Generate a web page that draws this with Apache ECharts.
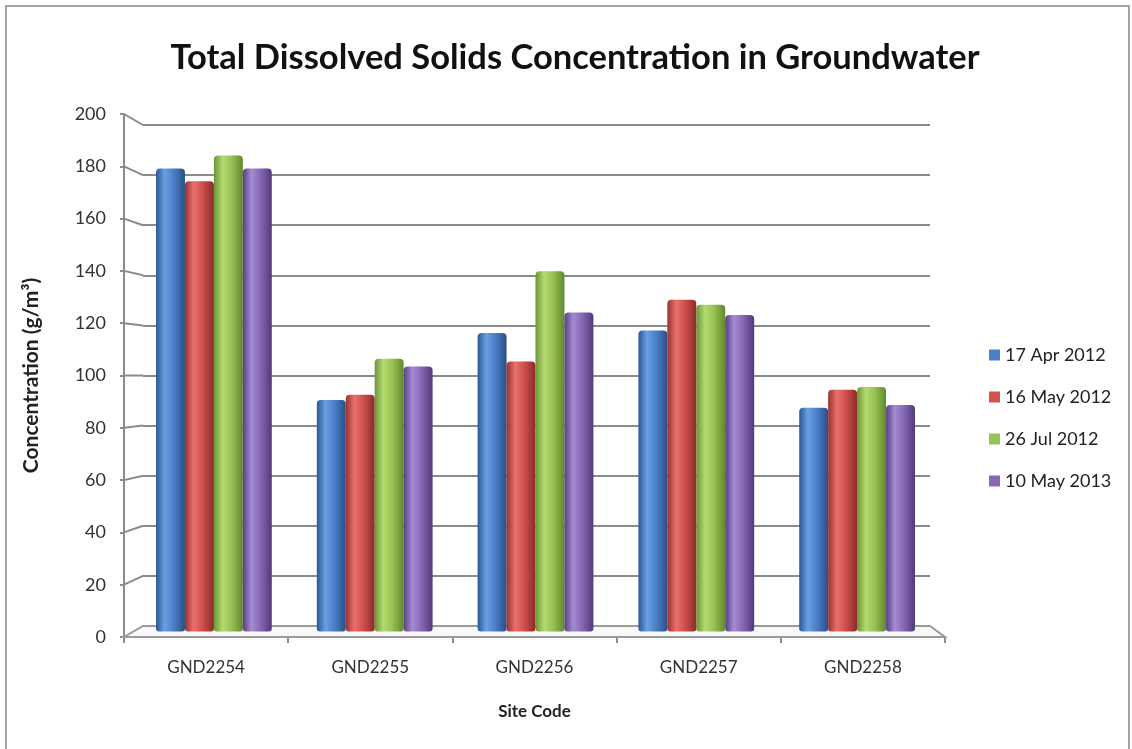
<!DOCTYPE html>
<html>
<head>
<meta charset="utf-8">
<title>Total Dissolved Solids Concentration in Groundwater</title>
<script src="https://cdn.jsdelivr.net/npm/echarts@6/dist/echarts.min.js"></script>
<style>
  html, body { margin: 0; padding: 0; background: #ffffff; }
  #chart { width: 1132px; height: 749px; }
</style>
</head>
<body>
<div id="chart"></div>
<script>
// Site codes along the horizontal axis
const sites = ['GND2254', 'GND2255', 'GND2256', 'GND2257', 'GND2258'];
// Sampling dates (one series each)
const dates = ['17 Apr 2012', '16 May 2012', '26 Jul 2012', '10 May 2013'];
// TDS concentration (g/m³) per site, one array per sampling date
const apr2012 = [180, 90, 116, 117, 87];
const may2012 = [175, 92, 105, 129, 94];
const jul2012 = [185, 106, 140, 127, 95];
const may2013 = [180, 103, 124, 123, 88];
// Value axis ticks
const yTicks = [0, 20, 40, 60, 80, 100, 120, 140, 160, 180, 200];

const values = [apr2012, may2012, jul2012, may2013];
const baseColors = ['#4a7fc9', '#d4514d', '#98c455', '#8668b6'];
const shades = [
  ['#2c5793', '#6a9fe3', '#4b80c9', '#2a4f86'],
  ['#953230', '#e8716c', '#d0504c', '#8a2c2a'],
  ['#6a9535', '#b4da70', '#97c354', '#62872f'],
  ['#573f80', '#a68bd3', '#8768b6', '#513a77']
];

const FONT = 'Lato, "Open Sans", sans-serif';
const chart = echarts.init(document.getElementById('chart'), null, { renderer: 'canvas' });

function barGradient(s) {
  return new echarts.graphic.LinearGradient(0, 0, 1, 0, [
    { offset: 0, color: s[0] },
    { offset: 0.3, color: s[1] },
    { offset: 0.6, color: s[2] },
    { offset: 1, color: s[3] }
  ]);
}

const yMin = yTicks[0], yMax = yTicks[yTicks.length - 1], yStep = yTicks[1] - yTicks[0];

chart.setOption({
  animation: false,
  backgroundColor: '#ffffff',
  title: {
    text: 'Total Dissolved Solids Concentration in Groundwater',
    left: 570, top: 35, textAlign: 'center',
    textStyle: { fontFamily: FONT, fontSize: 34.5, fontWeight: 'bold', color: '#111' }
  },
  legend: {
    orient: 'vertical',
    left: 989, top: 346, padding: 0,
    itemWidth: 11, itemHeight: 11, itemGap: 24,
    icon: 'rect',
    textStyle: { fontFamily: FONT, fontSize: 18, color: '#222', lineHeight: 18 },
    data: dates.map((d, i) => ({ name: d, itemStyle: { color: baseColors[i] } }))
  },
  grid: [
    // back wall (gridlines)
    { left: 143, right: 202, top: 125, bottom: 123 },
    // front axis
    { left: 124, width: 821, top: 114, bottom: 112 },
    // bars at mid depth
    { left: 133.5, right: 194.5, top: 117, bottom: 117.5 }
  ],
  xAxis: [
    { gridIndex: 0, type: 'category', data: sites, show: false },
    {
      gridIndex: 1, type: 'category', data: sites,
      axisLine: { lineStyle: { color: '#8c8c8c', width: 2 } },
      axisTick: { show: true, length: 6, lineStyle: { color: '#8c8c8c', width: 2 } },
      axisLabel: { fontFamily: FONT, fontSize: 17, color: '#333', margin: 22 },
      name: 'Site Code', nameLocation: 'middle', nameGap: 66,
      nameTextStyle: { fontFamily: FONT, fontSize: 17, fontWeight: 'bold', color: '#222' }
    },
    { gridIndex: 2, type: 'category', data: sites, show: false }
  ],
  yAxis: [
    {
      gridIndex: 0, type: 'value', min: yMin, max: yMax, interval: yStep,
      axisLine: { show: false }, axisTick: { show: false }, axisLabel: { show: false },
      splitLine: { lineStyle: { color: '#8a8a8a', width: 2 } }
    },
    {
      gridIndex: 1, type: 'value', min: yMin, max: yMax, interval: yStep,
      axisLine: { show: true, lineStyle: { color: '#8c8c8c', width: 2 } },
      axisTick: { show: true, length: 4, lineStyle: { color: '#8c8c8c', width: 2 } },
      axisLabel: { fontFamily: FONT, fontSize: 18, color: '#333', margin: 18 },
      splitLine: { show: false },
      name: 'Concentration (g/m³)', nameLocation: 'middle', nameGap: 82, nameRotate: 90,
      nameTextStyle: { fontFamily: FONT, fontSize: 21, fontWeight: 'bold', color: '#222' }
    },
    { gridIndex: 2, type: 'value', min: yMin, max: yMax, show: false, splitLine: { show: false } }
  ],
  series: dates.map((d, i) => ({
    name: d,
    type: 'bar',
    xAxisIndex: 2, yAxisIndex: 2,
    barGap: '0%', barCategoryGap: '28%',
    z: 5,
    itemStyle: { color: barGradient(shades[i]), borderRadius: [4, 4, 3, 3] },
    data: values[i]
  }))
});

// Perspective pieces: floor outline and the slanted links between the front axis ticks and the back wall gridlines
function drawDepth() {
  const graphics = [];
  const rf = chart.getModel().getComponent('grid', 1).coordinateSystem.getRect();
  const rb = chart.getModel().getComponent('grid', 0).coordinateSystem.getRect();
  yTicks.forEach(v => {
    if (v === yMin) return;
    const yf = chart.convertToPixel({ yAxisIndex: 1 }, v);
    const yb = chart.convertToPixel({ yAxisIndex: 0 }, v);
    graphics.push({
      type: 'line', z: 1, silent: true,
      shape: { x1: rf.x, y1: yf, x2: rb.x, y2: yb },
      style: { stroke: '#8a8a8a', lineWidth: 2 }
    });
  });
  const yf0 = chart.convertToPixel({ yAxisIndex: 1 }, yMin);
  const yb0 = chart.convertToPixel({ yAxisIndex: 0 }, yMin);
  graphics.push({
    type: 'polygon', z: 1, silent: true,
    shape: { points: [[rf.x, yf0], [rf.x + rf.width, yf0], [rb.x + rb.width, yb0], [rb.x, yb0]] },
    style: { fill: '#f9f9f9', stroke: '#9a9a9a', lineWidth: 2 }
  });
  // outer frame
  graphics.push({
    type: 'rect', z: 0, silent: true,
    shape: { x: 6, y: 6, width: 1123, height: 760 },
    style: { fill: 'none', stroke: '#a3a3a3', lineWidth: 2 }
  });
  chart.setOption({ graphic: graphics });
}
drawDepth();
</script>
</body>
</html>
